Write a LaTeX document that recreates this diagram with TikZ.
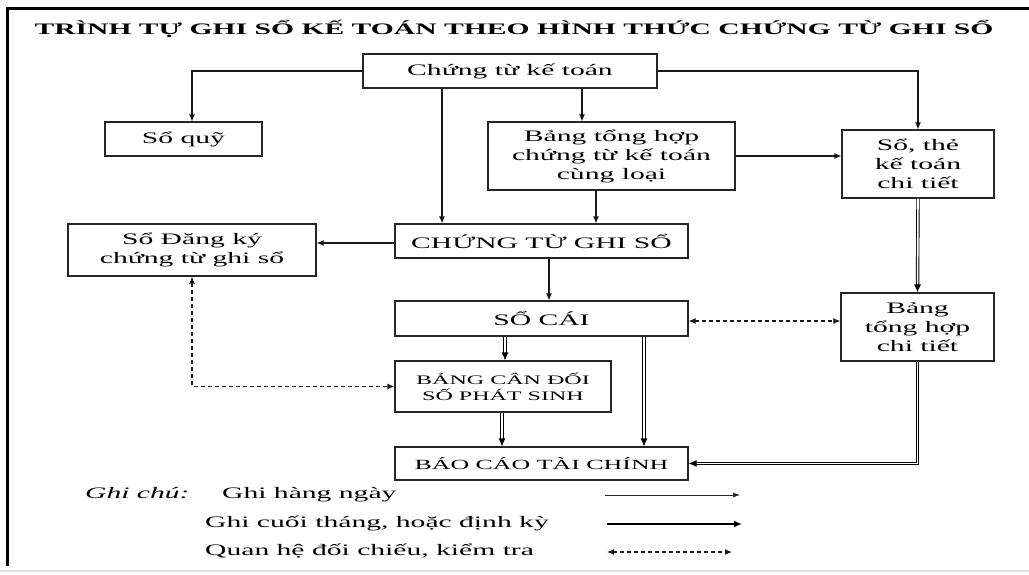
\documentclass[tikz,border=0pt]{standalone}
\usepackage{fontspec}
\setmainfont{Liberation Serif}[FakeStretch=1.85]
\usetikzlibrary{arrows.meta}
\begin{document}
\begin{tikzpicture}[x=1pt,y=-1pt,
  box/.style={draw=black!85, line width=1.1pt, inner sep=0pt, align=center,
              font=\fontsize{16}{19}\selectfont, text=black},
  arr/.style={draw=black!90, line width=1.1pt, -{Latex[length=7pt,width=6pt]}},
  % double line body, stopped short of the tip
  dblbody/.style={draw=black, double=white, double distance=1.6pt, line width=0.9pt,
                  shorten >=6pt},
  % the tip alone: the line itself is an invisible dash
  dbltip/.style={draw=black, line width=1pt, line cap=butt,
                 dash pattern=on 0pt off 2000pt, -{Latex[length=8pt,width=7pt]}},
  dsh/.style={draw=black!90, line width=1.1pt, dash pattern=on 4pt off 3pt,
              {Latex[length=7pt,width=6pt]}-{Latex[length=7pt,width=6pt]}},
  thick arr/.style={draw=black, line width=2.2pt, -{Latex[length=8pt,width=7pt]}},
  legend/.style={anchor=base west, inner sep=0pt, font=\fontsize{16}{19}\selectfont, text=black}]
\useasboundingbox (0,0) rectangle (1029,574);

% frame
\draw[line width=3pt] (7,566) -- (7,8) -- (1029,8);
\draw[black!12, line width=1.5pt] (0,571) -- (1029,571);

% title
\node[anchor=base, inner sep=0pt, font=\bfseries\fontsize{16}{19}\selectfont] (title) at (514,34)
  {TRÌNH TỰ GHI SỔ KẾ TOÁN THEO HÌNH THỨC CHỨNG TỪ GHI SỔ};

% boxes
\node[box, minimum width=294pt, minimum height=34pt] (ctkt) at (510,71) {Chứng từ kế toán};
\node[box, minimum width=157pt, minimum height=34pt] (soquy) at (183.5,139) {Sổ quỹ};
\node[box, minimum width=247pt, minimum height=68pt] (bth) at (611.5,156)
  {Bảng tổng hợp\\chứng từ kế toán\\cùng loại};
\node[box, minimum width=152pt, minimum height=68pt] (sothe) at (918,164)
  {Sổ, thẻ\\kế toán\\chi tiết};
\node[box, minimum width=248pt, minimum height=52pt] (sodk) at (192,250)
  {Sổ Đăng ký\\chứng từ ghi sổ};
\node[box, minimum width=293pt, minimum height=34pt] (ctgs) at (541.5,241) {CHỨNG TỪ GHI SỔ};
\node[box, minimum width=293pt, minimum height=35pt] (socai) at (541.5,318.5) {SỔ CÁI};
\node[box, minimum width=153pt, minimum height=68pt] (bthct) at (917.5,327)
  {Bảng\\tổng hợp\\chi tiết};
\node[box, minimum width=216pt, minimum height=51pt, font=\fontsize{13}{16}\selectfont] (bcd) at (503,386.5)
  {BẢNG CÂN ĐỐI\\SỐ PHÁT SINH};
\node[box, minimum width=293pt, minimum height=33pt, font=\fontsize{14}{17}\selectfont] (bctc) at (541.5,463.5)
  {BÁO CÁO TÀI CHÍNH};

% column and row guides for the connectors
\coordinate (c192) at (192,0);
\coordinate (c442) at (442,0);
\coordinate (c582) at (582,0);
\coordinate (c596) at (596,0);
\coordinate (c549) at (549,0);
\coordinate (c505) at (505,0);
\coordinate (c502) at (502,0);
\coordinate (c644) at (644,0);
\coordinate (r243) at (0,243);
\coordinate (r321) at (0,321);

% daily entries
\draw[arr] (ctkt.west) -| (soquy.north -| c192);
\draw[arr] (ctkt.south -| c442) -- (ctgs.north -| c442);
\draw[arr] (ctkt.south -| c582) -- (bth.north -| c582);
\draw[arr] (ctkt.east) -| (sothe.north);
\draw[arr] (bth.east) -- (sothe.west |- bth.east);
\draw[arr] (bth.south -| c596) -- (ctgs.north -| c596);
\draw[arr] (ctgs.west |- r243) -- (sodk.east |- r243);
\draw[arr] (ctgs.south -| c549) -- (socai.north -| c549);

% end of month entries
\foreach \a/\b in {sothe.south/bthct.north,
                   socai.south -| c505/bcd.north -| c505,
                   socai.south -| c644/bctc.north -| c644,
                   bcd.south -| c502/bctc.north -| c502} {
  \draw[dblbody] (\a) -- (\b);
  \draw[dbltip] (\a) -- (\b);
}
\draw[dblbody] (bthct.south) |- (bctc.east);
\draw[dbltip] (bthct.south) |- (bctc.east);

% cross checks
\draw[dsh] (socai.east |- r321) -- (bthct.west |- r321);
\draw[dsh] (sodk.south) |- (bcd.west);

% legend
\node[legend, font=\itshape\fontsize{16}{19}\selectfont] (gc) at (85,498) {Ghi chú:};
\node[legend] (l1) at (222,498) {Ghi hàng ngày};
\node[legend] (l2) at (205,527) {Ghi cuối tháng, hoặc định kỳ};
\node[legend] (l3) at (205,555) {Quan hệ đối chiếu, kiểm tra};
\coordinate (a1) at (605,495);
\coordinate (b1) at (740,495);
\coordinate (a2) at (607,524);
\coordinate (b2) at (742,524);
\coordinate (a3) at (607,552);
\coordinate (b3) at (732,552);
\draw[draw=black!85, line width=0.7pt, -{Latex[length=7pt,width=5pt]}] (a1) -- (b1);
\draw[thick arr] (a2) -- (b2);
\draw[dsh] (a3) -- (b3);
\end{tikzpicture}
\end{document}
